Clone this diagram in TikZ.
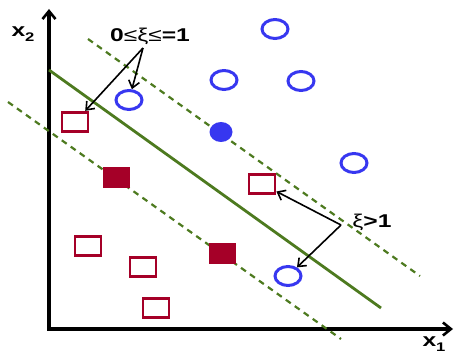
\documentclass[tikz,border=0pt]{standalone}
\usepackage{fontspec}
\usepackage{graphicx}
\setmainfont{Liberation Sans}
\usetikzlibrary{arrows.meta,shapes.geometric}
\definecolor{cblue}{RGB}{55,55,240}
\definecolor{cred}{RGB}{165,0,40}
\definecolor{cgreen}{RGB}{77,122,31}
\tikzset{
  opencirc/.style={ellipse,draw=cblue,line width=3pt,minimum width=26pt,minimum height=19pt,inner sep=0pt},
  fillcirc/.style={ellipse,fill=cblue,minimum width=23pt,minimum height=20pt,inner sep=0pt},
  opensq/.style={rectangle,draw=cred,line width=2.8pt,minimum width=26pt,minimum height=19.5pt,inner sep=0pt},
  fillsq/.style={rectangle,fill=cred,minimum width=27pt,minimum height=21pt,inner sep=0pt},
  axis/.style={line width=3.2pt,black},
  hyper/.style={cgreen,line width=2.8pt},
  margin/.style={cgreen,line width=2.2pt,dash pattern=on 6pt off 5pt},
  pointer/.style={black,line width=1.6pt,-{Straight Barb[length=7pt,width=11pt,line width=1.6pt]}},
  lbl/.style={inner sep=0pt,font=\fontsize{18.5}{19}\selectfont\bfseries},
}
\newcommand{\hstretch}[1]{\scalebox{1.33}[1]{#1}}
\begin{document}
\begin{tikzpicture}[x=1pt,y=-1pt]
\useasboundingbox (0,0) rectangle (456,353);
% axes
\coordinate (ytop) at (49,9);
\coordinate (orig) at (49,329);
\coordinate (xend) at (453,329);
\draw[axis,{Straight Barb[length=8pt,width=13pt,line width=2.6pt]}-{Straight Barb[length=8pt,width=13pt,line width=2.6pt]}] (ytop) -- (orig) -- (xend);
\node[lbl] (x2) at (23,34) {\hstretch{x\raisebox{-5pt}{\fontsize{12.5}{13}\selectfont 2}}};
\node[lbl] (x1) at (434,344) {\hstretch{x\raisebox{-5pt}{\fontsize{12.5}{13}\selectfont 1}}};
% lines
\draw[hyper] (49,70) -- (381,308);
\draw[margin] (88,39) -- (420,276);
\draw[margin] (8,102) -- (341,339);
% circles
\node[opencirc] (c1) at (129,100) {};
\node[opencirc] (c2) at (275,29) {};
\node[opencirc] (c3) at (224,80) {};
\node[opencirc] (c4) at (301,81) {};
\node[opencirc] (c5) at (354,163) {};
\node[opencirc] (c6) at (288,276) {};
\node[fillcirc] (c7) at (221,132) {};
% squares
\node[opensq] (s1) at (75,122) {};
\node[opensq] (s2) at (262,184) {};
\node[opensq] (s3) at (88,246) {};
\node[opensq] (s4) at (143,267) {};
\node[opensq] (s5) at (156,308) {};
\node[fillsq] (s6) at (116,178) {};
\node[fillsq] (s7) at (222,253) {};
% labels
\node[lbl] (l1) at (150,36) {\hstretch{0{\mdseries ≤ξ≤}=1}};
\node[lbl] (l2) at (372,222) {\hstretch{{\mdseries ξ}>1}};
\coordinate (p1) at (143,48);
\coordinate (p2) at (341,225);
\draw[pointer] (p1) -- (s1);
\draw[pointer] (p1) -- (c1);
\draw[pointer] (p2) -- (s2);
\draw[pointer] (p2) -- (c6);
\end{tikzpicture}
\end{document}
